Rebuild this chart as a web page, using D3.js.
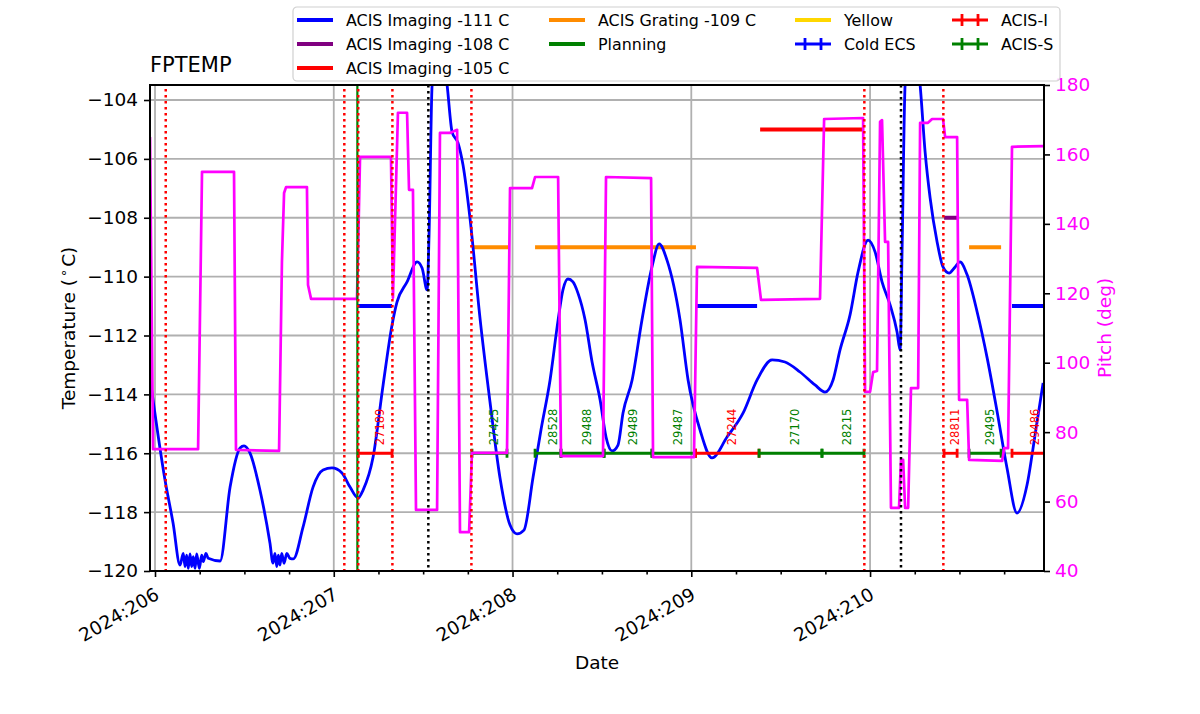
<!DOCTYPE html>
<html>
<head>
<meta charset="utf-8">
<script src="https://cdn.jsdelivr.net/npm/d3@7"></script>
<style>
body { margin: 0; background: #fff; }
svg { font-family: "DejaVu Sans", sans-serif; }
</style>
</head>
<body>
<svg id="svg" width="1200" height="714"></svg>
<script>
// ---- data (day of year 2024) ----
var tempTimes = [205.972, 206.056, 206.101, 206.140, 206.158, 206.168, 206.177, 206.186, 206.196, 206.205,
    206.214, 206.224, 206.233, 206.248, 206.261, 206.270, 206.285, 206.298, 206.364, 206.420,
    206.476, 206.498, 206.531, 206.587, 206.643, 206.660, 206.671, 206.681, 206.690, 206.699,
    206.709, 206.722, 206.737, 206.755, 206.774, 206.828, 206.884, 206.940, 206.990, 207.046,
    207.091, 207.136, 207.164, 207.220, 207.276, 207.326, 207.354, 207.410, 207.466, 207.494,
    207.522, 207.533, 207.550, 207.589, 207.634, 207.662, 207.695, 207.723, 207.762, 207.818,
    207.874, 207.930, 207.986, 208.025, 208.064, 208.115, 208.159, 208.210, 208.255, 208.282,
    208.310, 208.338, 208.366, 208.406, 208.445, 208.490, 208.523, 208.557, 208.590, 208.618,
    208.669, 208.724, 208.780, 208.820, 208.864, 208.937, 208.982, 209.049, 209.116, 209.200,
    209.290, 209.368, 209.452, 209.524, 209.608, 209.692, 209.748, 209.793, 209.832, 209.888,
    209.933, 209.989, 210.028, 210.067, 210.112, 210.151, 210.168, 210.179, 210.196, 210.235,
    210.280, 210.308, 210.336, 210.375, 210.408, 210.442, 210.476, 210.503, 210.543, 210.599,
    210.655, 210.711, 210.766, 210.822, 210.878, 210.923, 210.968];
var tempValues = [-113.44, -116.91, -118.37, -119.80, -119.40, -119.85, -119.46, -119.91, -119.42, -119.85,
    -119.51, -119.91, -119.42, -119.91, -119.46, -119.68, -119.40, -119.57, -119.66, -117.15,
    -115.82, -115.75, -115.99, -117.25, -119.05, -119.73, -119.40, -119.85, -119.46, -119.80,
    -119.40, -119.74, -119.40, -119.57, -119.59, -118.51, -117.15, -116.57, -116.50, -116.67,
    -117.15, -117.52, -117.25, -116.13, -113.68, -111.64, -110.86, -110.18, -109.50, -109.71,
    -110.45, -108.59, -103.49, -101.50, -103.49, -105.09, -105.46, -106.21, -108.01, -111.41,
    -114.26, -116.84, -118.44, -118.74, -118.61, -116.81, -115.21, -113.51, -111.47, -110.45,
    -110.08, -110.18, -110.56, -111.47, -112.90, -114.19, -115.45, -115.92, -115.72, -114.63,
    -113.51, -111.47, -109.67, -108.89, -109.44, -111.47, -113.51, -115.21, -116.16, -115.45,
    -114.63, -113.51, -112.83, -112.90, -113.24, -113.68, -113.92, -113.51, -112.49, -111.30,
    -109.84, -108.76, -109.16, -110.18, -110.96, -111.88, -112.49, -109.16, -103.49, -101.50,
    -103.49, -105.77, -107.33, -108.82, -109.67, -109.88, -109.67, -109.50, -109.94, -111.20,
    -112.76, -114.60, -116.50, -118.03, -117.08, -115.38, -113.61];

var pitchTimes = [205.972, 205.989, 206.241, 206.263, 206.442, 206.453, 206.694, 206.710, 206.722, 206.733,
    206.850, 206.856, 206.873, 207.130, 207.147, 207.320, 207.331, 207.359, 207.410, 207.421,
    207.443, 207.460, 207.578, 207.594, 207.650, 207.690, 207.706, 207.757, 207.773, 207.969,
    207.986, 208.109, 208.126, 208.255, 208.271, 208.506, 208.523, 208.775, 208.786, 209.015,
    209.032, 209.368, 209.390, 209.720, 209.743, 209.961, 209.972, 210.000, 210.017, 210.039,
    210.056, 210.067, 210.084, 210.101, 210.117, 210.162, 210.173, 210.185, 210.196, 210.213,
    210.229, 210.269, 210.280, 210.324, 210.347, 210.408, 210.420, 210.487, 210.498, 210.543,
    210.554, 210.739, 210.750, 210.772, 210.794, 210.968];
var pitchValues = [165.0, 75.1, 75.1, 155.0, 155.0, 74.9, 74.6, 129.0, 148.9, 150.6,
    150.6, 122.4, 118.4, 118.4, 159.3, 159.3, 118.7, 172.0, 172.0, 149.8,
    149.8, 57.6, 57.6, 166.2, 166.2, 167.1, 51.2, 51.2, 74.0, 74.0,
    150.3, 150.3, 153.5, 153.5, 73.1, 73.1, 153.5, 153.2, 72.8, 72.8,
    127.6, 127.3, 118.1, 118.4, 170.2, 170.5, 91.6, 91.6, 97.3, 97.6,
    169.4, 169.9, 134.8, 134.8, 58.2, 58.2, 72.0, 72.0, 58.2, 58.2,
    92.7, 92.7, 169.1, 169.1, 170.2, 170.2, 165.0, 165.0, 89.3, 89.3,
    72.0, 71.7, 75.4, 75.4, 162.2, 162.4];

var obsids   = ["27189", "27425", "28528", "29488", "29489", "29487", "27244", "27170", "28215", "28811", "29495", "29486"];
var obsStart = [207.136, 207.773, 208.126, 208.271, 208.512, 208.780, 209.024, 209.379, 209.731, 210.414, 210.554, 210.794];
var obsStop  = [207.326, 207.969, 208.271, 208.512, 208.780, 209.024, 209.379, 209.731, 209.966, 210.487, 210.733, 211.000];
var obsInstr = ["I", "S", "S", "S", "S", "S", "I", "S", "S", "I", "S", "I"];
var obsLevel = -116;

var limitStart = [207.136, 209.032, 210.794, 207.773, 208.126, 210.554, 210.414, 209.385];
var limitStop  = [207.326, 209.368, 211.000, 207.975, 209.026, 210.733, 210.492, 209.966];
var limitTemp  = [-111, -111, -111, -109, -109, -109, -108, -105];
var limitKind  = ["I111", "I111", "I111", "G109", "G109", "G109", "I108", "I105"];

var redLines   = [206.060, 207.059, 207.137, 207.328, 207.770, 209.968, 210.410];
var blackLines = [207.529, 210.173];
var greenLines = [207.132];

var xDomain = [205.972, 210.973];
var xMajor = [206, 207, 208, 209, 210];
var xMajorLabels = ["2024:206", "2024:207", "2024:208", "2024:209", "2024:210"];
var tempDomain = [-120, -103.49];
var tempTicks = [-120, -118, -116, -114, -112, -110, -108, -106, -104];
var pitchDomain = [40, 180];
var pitchTicks = [40, 60, 80, 100, 120, 140, 160, 180];

var legendLabels = ["ACIS Imaging -111 C", "ACIS Imaging -108 C", "ACIS Imaging -105 C",
    "ACIS Grating -109 C", "Planning", "Yellow", "Cold ECS", "ACIS-I", "ACIS-S"];
var legendKinds = ["I111", "I108", "I105", "G109", "Plan", "Yellow", "Cold", "ACISI", "ACISS"];

// ---- styles ----
var colors = { I111: "#0000ff", I108: "#800080", I105: "#ff0000", G109: "#ff8c00",
    Plan: "#008000", Yellow: "#ffd700", Cold: "#0000ff", ACISI: "#ff0000", ACISS: "#008000" };
var instrColor = { I: "#ff0000", S: "#008000" };

var pLeft = 150, pRight = 1044, pTop = 85, pBottom = 571;
var fs = '18.5px';

var svg = d3.select('svg');

var x = d3.scaleLinear().domain(xDomain).range([pLeft, pRight]);
var yT = d3.scaleLinear().domain(tempDomain).range([pBottom, pTop]);
var yP = d3.scaleLinear().domain(pitchDomain).range([pBottom, pTop]);

svg.append('defs').append('clipPath').attr('id', 'clip')
    .append('rect')
    .attr('x', pLeft).attr('y', pTop)
    .attr('width', pRight - pLeft).attr('height', pBottom - pTop);

// grid
var grid = svg.append('g');
grid.selectAll('line.gx')
    .data(xMajor)
    .enter()
    .append('line')
    .attr('x1', function(d){ return x(d); })
    .attr('x2', function(d){ return x(d); })
    .attr('y1', pTop).attr('y2', pBottom)
    .attr('stroke', '#b0b0b0').attr('stroke-width', 1.8);
grid.selectAll('line.gy')
    .data(tempTicks)
    .enter()
    .append('line')
    .attr('x1', pLeft).attr('x2', pRight)
    .attr('y1', function(d){ return yT(d); })
    .attr('y2', function(d){ return yT(d); })
    .attr('stroke', '#b0b0b0').attr('stroke-width', 1.8);

var plot = svg.append('g').attr('clip-path', 'url(#clip)');

// limit bars
plot.selectAll('line.limit')
    .data(limitTemp)
    .enter()
    .append('line')
    .attr('x1', function(d, i){ return x(limitStart[i]); })
    .attr('x2', function(d, i){ return x(limitStop[i]); })
    .attr('y1', function(d){ return yT(d); })
    .attr('y2', function(d){ return yT(d); })
    .attr('stroke', function(d, i){ return colors[limitKind[i]]; })
    .attr('stroke-width', 4);

// temperature
var tempData = tempTimes.map(function(t, i){ return [t, tempValues[i]]; });
plot.append('path')
    .datum(tempData)
    .attr('d', d3.line().curve(d3.curveMonotoneX)
        .x(function(d){ return x(d[0]); }).y(function(d){ return yT(d[1]); }))
    .attr('fill', 'none')
    .attr('stroke', '#0000ff')
    .attr('stroke-width', 2.8)
    .attr('stroke-linejoin', 'round');

// obsid bars
var bars = plot.selectAll('g.obs')
    .data(obsids)
    .enter()
    .append('g');
bars.append('line')
    .attr('x1', function(d, i){ return x(obsStart[i]); })
    .attr('x2', function(d, i){ return x(obsStop[i]); })
    .attr('y1', yT(obsLevel)).attr('y2', yT(obsLevel))
    .attr('stroke', function(d, i){ return instrColor[obsInstr[i]]; })
    .attr('stroke-width', 2.8);
bars.append('line')
    .attr('x1', function(d, i){ return x(obsStart[i]); })
    .attr('x2', function(d, i){ return x(obsStart[i]); })
    .attr('y1', yT(obsLevel) - 4.5).attr('y2', yT(obsLevel) + 4.5)
    .attr('stroke', function(d, i){ return instrColor[obsInstr[i]]; })
    .attr('stroke-width', 2.8);
bars.append('line')
    .attr('x1', function(d, i){ return x(obsStop[i]); })
    .attr('x2', function(d, i){ return x(obsStop[i]); })
    .attr('y1', yT(obsLevel) - 4.5).attr('y2', yT(obsLevel) + 4.5)
    .attr('stroke', function(d, i){ return instrColor[obsInstr[i]]; })
    .attr('stroke-width', 2.8);

// pitch
var pitchData = pitchTimes.map(function(t, i){ return [t, pitchValues[i]]; });
plot.append('path')
    .datum(pitchData)
    .attr('d', d3.line().x(function(d){ return x(d[0]); }).y(function(d){ return yP(d[1]); }))
    .attr('fill', 'none')
    .attr('stroke', '#ff00ff')
    .attr('stroke-width', 2.7)
    .attr('stroke-linejoin', 'round');

// vertical event lines
plot.selectAll('line.green')
    .data(greenLines)
    .enter()
    .append('line')
    .attr('x1', function(d){ return x(d); }).attr('x2', function(d){ return x(d); })
    .attr('y1', pTop).attr('y2', pBottom)
    .attr('stroke', '#008000').attr('stroke-width', 2.2);
plot.selectAll('line.red')
    .data(redLines)
    .enter()
    .append('line')
    .attr('x1', function(d){ return x(d); }).attr('x2', function(d){ return x(d); })
    .attr('y1', pTop + 4).attr('y2', pBottom)
    .attr('stroke', '#ff0000').attr('stroke-width', 2.5)
    .attr('stroke-dasharray', '2.5,3.5');
plot.selectAll('line.black')
    .data(blackLines)
    .enter()
    .append('line')
    .attr('x1', function(d){ return x(d); }).attr('x2', function(d){ return x(d); })
    .attr('y1', pTop).attr('y2', pBottom)
    .attr('stroke', '#000000').attr('stroke-width', 2.5)
    .attr('stroke-dasharray', '2.5,3.5');

// obsid labels
plot.selectAll('text.obs')
    .data(obsids)
    .enter()
    .append('text')
    .text(function(d){ return d; })
    .attr('transform', function(d, i){
        var mid = (x(obsStart[i]) + x(obsStop[i])) / 2;
        return 'translate(' + (mid + 8.5) + ',' + (yT(obsLevel) - 8) + ') rotate(-90)';
    })
    .attr('fill', function(d, i){ return instrColor[obsInstr[i]]; })
    .attr('font-size', '11.5px');

// axes
var xAxis = svg.append('g')
    .attr('transform', 'translate(0,' + pBottom + ')')
    .call(d3.axisBottom(x).tickValues(xMajor).tickSize(6).tickSizeOuter(0)
        .tickFormat(function(d, i){ return xMajorLabels[i]; }));
xAxis.selectAll('text')
    .attr('y', 0).attr('dy', 0)
    .attr('text-anchor', 'end')
    .attr('transform', 'translate(5,27) rotate(-30)')
    .attr('font-size', fs);

var minor = [];
for (var d = 206; d <= 210.75; d += 0.25) { if (d % 1 !== 0) minor.push(d); }
svg.append('g')
    .attr('transform', 'translate(0,' + pBottom + ')')
    .call(d3.axisBottom(x).tickValues(minor).tickSize(3.5).tickSizeOuter(0).tickFormat(''));

var yAxis = svg.append('g')
    .attr('transform', 'translate(' + pLeft + ',0)')
    .call(d3.axisLeft(yT).tickValues(tempTicks).tickSize(6).tickSizeOuter(0).tickPadding(6)
        .tickFormat(d3.format('d')));
yAxis.selectAll('text').attr('font-size', fs);

var pAxis = svg.append('g')
    .attr('transform', 'translate(' + pRight + ',0)')
    .call(d3.axisRight(yP).tickValues(pitchTicks).tickSize(6).tickSizeOuter(0).tickPadding(5));
pAxis.selectAll('text').attr('font-size', fs).attr('fill', '#ff00ff');

svg.selectAll('.domain').remove();
svg.selectAll('.tick line').attr('stroke', '#000').attr('stroke-width', 1.6);
svg.selectAll('.tick text').attr('font-family', '"DejaVu Sans", sans-serif');

// frame
svg.append('rect')
    .attr('x', pLeft).attr('y', pTop)
    .attr('width', pRight - pLeft).attr('height', pBottom - pTop)
    .attr('fill', 'none').attr('stroke', '#000').attr('stroke-width', 2);

// labels
svg.append('text').text('FPTEMP')
    .attr('x', pLeft).attr('y', 72)
    .attr('font-size', '21px');

svg.append('text').text('Date')
    .attr('x', (pLeft + pRight) / 2).attr('y', 669)
    .attr('text-anchor', 'middle')
    .attr('font-size', fs);

var tLabel = svg.append('text')
    .attr('transform', 'translate(75,' + ((pTop + pBottom) / 2) + ') rotate(-90)')
    .attr('text-anchor', 'middle')
    .attr('font-size', fs);
tLabel.append('tspan').text('Temperature (');
tLabel.append('tspan').text('\u2218').attr('font-size', '13px').attr('dy', -7).attr('dx', 2);
tLabel.append('tspan').text('C)').attr('dy', 7).attr('dx', 2);

svg.append('text').text('Pitch (deg)')
    .attr('transform', 'translate(1111,' + ((pTop + pBottom) / 2) + ') rotate(-90)')
    .attr('text-anchor', 'middle')
    .attr('fill', '#ff00ff')
    .attr('font-size', fs);

// legend
var legend = svg.append('g');
legend.append('rect')
    .attr('x', 293).attr('y', 7)
    .attr('width', 767).attr('height', 74)
    .attr('rx', 4)
    .attr('fill', 'white').attr('fill-opacity', 0.8)
    .attr('stroke', '#d0d0d0').attr('stroke-width', 1.2);

var colX = [297, 549, 795, 952];
var colOf = [0, 0, 0, 1, 1, 2, 2, 3, 3];
var rowOf = [0, 1, 2, 0, 1, 0, 1, 0, 1];
var items = legend.selectAll('g.item')
    .data(legendLabels)
    .enter()
    .append('g')
    .attr('transform', function(d, i){ return 'translate(' + colX[colOf[i]] + ',' + (20 + 24 * rowOf[i]) + ')'; });
items.append('line')
    .attr('x1', 0).attr('x2', 36).attr('y1', 0).attr('y2', 0)
    .attr('stroke', function(d, i){ return colors[legendKinds[i]]; })
    .attr('stroke-width', function(d, i){ return i >= 6 ? 2.8 : 4; });
items.filter(function(d, i){ return i >= 6; })
    .each(function(d){
        var i = legendLabels.indexOf(d);
        var g = d3.select(this);
        [10, 26].forEach(function(cx){
            g.append('line')
                .attr('x1', cx).attr('x2', cx).attr('y1', -6).attr('y2', 6)
                .attr('stroke', colors[legendKinds[i]]).attr('stroke-width', 2.8);
        });
    });
items.append('text')
    .text(function(d){ return d; })
    .attr('x', 49).attr('y', 0).attr('dy', '0.36em')
    .attr('font-size', '15.9px');
</script>
</body>
</html>
